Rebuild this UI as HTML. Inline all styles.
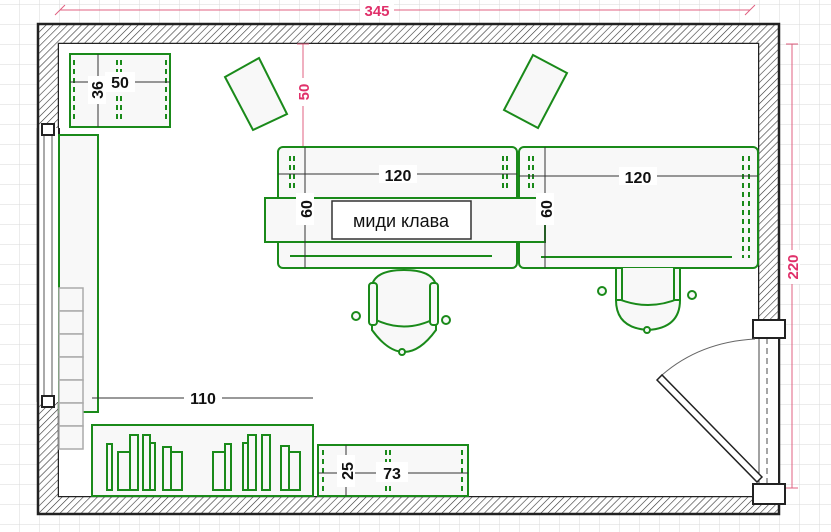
<!DOCTYPE html>
<html><head><meta charset="utf-8"><style>
html,body{margin:0;padding:0;background:#fff}
svg{display:block}
text{font-family:"Liberation Sans","Noto Sans CJK SC",sans-serif}
</style></head><body>
<svg width="831" height="532" viewBox="0 0 831 532" xmlns="http://www.w3.org/2000/svg">
<defs>
<pattern id="g" width="20" height="20" patternUnits="userSpaceOnUse" x="0" y="5">
<path d="M20 0V20M0 20H20" stroke="#dadada" stroke-width="1" fill="none"/>
</pattern>
<pattern id="h" width="5" height="5" patternUnits="userSpaceOnUse" patternTransform="rotate(45)">
<rect width="5" height="5" fill="#fff"/><line x1="0" y1="0" x2="0" y2="5" stroke="#333" stroke-width="1.2"/>
</pattern>
</defs>
<rect width="831" height="532" fill="url(#g)"/>
<!-- walls -->
<path d="M38 24H779V514H38Z M59 44V496H758V44Z" fill="url(#h)" fill-rule="evenodd" stroke="#222" stroke-width="2.5"/>
<rect x="59" y="44" width="699" height="452" fill="#fff"/>
<!-- left window -->
<rect x="38" y="128" width="21" height="274" fill="#fff"/>
<line x1="38" y1="128" x2="38" y2="402" stroke="#222" stroke-width="2.5"/>
<line x1="59" y1="128" x2="59" y2="402" stroke="#222" stroke-width="2"/>
<line x1="44" y1="130" x2="44" y2="400" stroke="#555"/>
<line x1="52" y1="130" x2="52" y2="400" stroke="#555"/>
<rect x="42" y="124" width="12" height="11" fill="#fff" stroke="#222" stroke-width="2"/>
<rect x="42" y="396" width="12" height="11" fill="#fff" stroke="#222" stroke-width="2"/>
<!-- door opening right -->
<rect x="758" y="320" width="21" height="177" fill="#fff"/>
<line x1="779" y1="320" x2="779" y2="497" stroke="#222" stroke-width="2"/>
<line x1="759" y1="338" x2="759" y2="487" stroke="#444" stroke-width="1"/>
<line x1="767" y1="338" x2="767" y2="487" stroke="#888" stroke-width="1.5" stroke-dasharray="6,4"/>
<rect x="753" y="320" width="32" height="18" fill="#fff" stroke="#222" stroke-width="2"/>
<rect x="753" y="484" width="32" height="20" fill="#fff" stroke="#222" stroke-width="2"/>
<path d="M755 339 Q700 342 662 375" fill="none" stroke="#666" stroke-width="1"/>
<polygon points="657,380 662,375 762,477 757,482" fill="#fff" stroke="#222" stroke-width="1.5"/>
<!-- dims red -->
<g stroke="#e06080" stroke-width="1" fill="none">
<line x1="60" y1="10" x2="750" y2="10"/>
<line x1="55" y1="15" x2="65" y2="5"/><line x1="745" y1="15" x2="755" y2="5"/>
<line x1="792" y1="44" x2="792" y2="488"/>
<line x1="786" y1="44" x2="798" y2="44"/><line x1="786" y1="488" x2="798" y2="488"/>
<line x1="303" y1="44" x2="303" y2="146"/>
<line x1="297" y1="44" x2="309" y2="44"/>
</g>
<rect x="360" y="2" width="34" height="16" fill="#fff"/>
<text x="377" y="16" font-size="15" font-weight="bold" fill="#e0306a" text-anchor="middle">345</text>
<rect x="784" y="250" width="16" height="34" fill="#fff"/>
<text transform="translate(798,267) rotate(-90)" font-size="15" font-weight="bold" fill="#e0306a" text-anchor="middle">220</text>
<rect x="295" y="78" width="16" height="28" fill="#fff"/>
<text transform="translate(309,92) rotate(-90)" font-size="15" font-weight="bold" fill="#e0306a" text-anchor="middle">50</text>
<!-- furniture -->
<g fill="#f8f8f8" stroke="#1a8a1a" stroke-width="2">
<rect x="70" y="54" width="100" height="73"/>
<polygon points="225,77 259,58 287,114 253,130"/>
<polygon points="533,55 567,73 538,128 504,110"/>
<rect x="59" y="135" width="39" height="277"/>
<rect x="278" y="147" width="239" height="121" rx="5"/>
<rect x="519" y="147" width="239" height="121" rx="5"/>
<rect x="265" y="198" width="280" height="44"/>
<rect x="92" y="425" width="221" height="71"/>
<rect x="318" y="445" width="150" height="51"/>
</g>
<g fill="#f8f8f8" stroke="#aaa" stroke-width="1.5">
<rect x="59" y="288" width="24" height="23"/><rect x="59" y="311" width="24" height="23"/>
<rect x="59" y="334" width="24" height="23"/><rect x="59" y="357" width="24" height="23"/>
<rect x="59" y="380" width="24" height="23"/><rect x="59" y="403" width="24" height="23"/>
<rect x="59" y="426" width="24" height="23"/>
</g>
<g fill="none" stroke="#1a8a1a" stroke-width="2">
<rect x="107" y="444" width="5" height="46"/><rect x="118" y="452" width="12" height="38"/>
<rect x="130" y="435" width="8" height="55"/><rect x="143" y="435" width="7" height="55"/>
<rect x="150" y="443" width="5" height="47"/><rect x="163" y="447" width="8" height="43"/>
<rect x="171" y="452" width="11" height="38"/><rect x="213" y="452" width="12" height="38"/>
<rect x="225" y="444" width="6" height="46"/><rect x="243" y="443" width="5" height="47"/>
<rect x="248" y="435" width="8" height="55"/><rect x="262" y="435" width="8" height="55"/>
<rect x="281" y="446" width="8" height="44"/><rect x="289" y="452" width="11" height="38"/>
<line x1="290" y1="256" x2="492" y2="256"/>
<line x1="541" y1="257" x2="732" y2="257"/>
</g>
<g stroke="#1a8a1a" stroke-width="2" stroke-dasharray="5,4">
<line x1="74" y1="60" x2="74" y2="122"/><line x1="117" y1="60" x2="117" y2="122"/><line x1="121" y1="60" x2="121" y2="122"/><line x1="166" y1="60" x2="166" y2="122"/>
<line x1="290" y1="156" x2="290" y2="192"/><line x1="294" y1="156" x2="294" y2="192"/>
<line x1="503" y1="156" x2="503" y2="192"/><line x1="507" y1="156" x2="507" y2="192"/>
<line x1="529" y1="156" x2="529" y2="192"/><line x1="533" y1="156" x2="533" y2="192"/>
<line x1="743" y1="156" x2="743" y2="258"/><line x1="749" y1="156" x2="749" y2="258"/>
<line x1="323" y1="450" x2="323" y2="494"/><line x1="386" y1="450" x2="386" y2="494"/><line x1="390" y1="450" x2="390" y2="494"/><line x1="462" y1="450" x2="462" y2="494"/>
</g>
<!-- chairs -->
<g fill="#f8f8f8" stroke="#1a8a1a" stroke-width="2">
<path d="M372 285 Q376 270 404 270 Q432 270 436 285 L436 330 Q420 352 404 352 Q388 352 372 330 Z"/>
<path d="M372 318 Q404 335 436 318" fill="none"/>
<rect x="369" y="283" width="8" height="42" rx="3"/><rect x="430" y="283" width="8" height="42" rx="3"/>
<circle cx="356" cy="316" r="4"/><circle cx="446" cy="320" r="4"/><circle cx="402" cy="352" r="3"/>
<path d="M616 268 L616 300 Q616 328 648 330 Q680 328 680 300 L680 268" />
<path d="M616 298 Q648 312 680 298" fill="none"/>
<rect x="616" y="268" width="6" height="32"/><rect x="674" y="268" width="6" height="32"/>
<circle cx="602" cy="291" r="4"/><circle cx="692" cy="295" r="4"/><circle cx="647" cy="330" r="3"/>
</g>
<g stroke="#333" stroke-width="1" fill="none">
<line x1="70" y1="82" x2="170" y2="82"/><line x1="98" y1="54" x2="98" y2="127"/>
<line x1="278" y1="174" x2="517" y2="174"/><line x1="305" y1="147" x2="305" y2="268"/>
<line x1="519" y1="176" x2="758" y2="176"/><line x1="545" y1="147" x2="545" y2="268"/>
<line x1="92" y1="398" x2="313" y2="398"/>
<line x1="318" y1="473" x2="468" y2="473"/><line x1="346" y1="445" x2="346" y2="496"/>
</g>
<g fill="#fff">
<rect x="105" y="72" width="30" height="20"/><rect x="88" y="76" width="18" height="28"/>
<rect x="379" y="165" width="38" height="18"/><rect x="619" y="167" width="38" height="18"/>
<rect x="296" y="193" width="18" height="32"/><rect x="536" y="193" width="18" height="32"/>
<rect x="184" y="389" width="38" height="18"/>
<rect x="376" y="462" width="32" height="20"/><rect x="337" y="455" width="18" height="32"/>
</g>
<rect x="332" y="201" width="139" height="38" fill="#fff" stroke="#333" stroke-width="1.5"/>
<g font-size="16" font-weight="bold" fill="#111" text-anchor="middle">
<text x="120" y="88">50</text>
<text transform="translate(103,90) rotate(-90)">36</text>
<text x="398" y="181">120</text>
<text x="638" y="183">120</text>
<text transform="translate(312,209) rotate(-90)">60</text>
<text transform="translate(552,209) rotate(-90)">60</text>
<text x="203" y="404">110</text>
<text x="392" y="479">73</text>
<text transform="translate(353,471) rotate(-90)">25</text>
</g>
<text x="401" y="227" font-size="18" fill="#111" text-anchor="middle">миди клава</text>
</svg>
</body></html>
